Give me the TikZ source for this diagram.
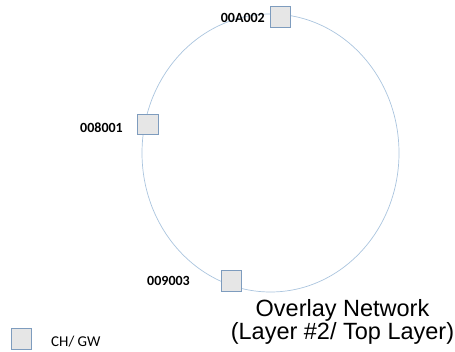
\documentclass[tikz,border=0pt]{standalone}
\usepackage{fontspec}
\setmainfont{Carlito}
\newfontfamily\titlefont{Liberation Sans}
\usetikzlibrary{positioning}
\definecolor{ringblue}{RGB}{170,196,222}
\definecolor{boxedge}{RGB}{126,156,190}
\definecolor{boxfill}{RGB}{230,230,230}

\begin{document}
\begin{tikzpicture}[x=1pt,y=-1pt]
        %
        % `chgw' is used for the cluster head / gateway squares.
        % `nodeid' is used for the labels beside them.
        \tikzstyle{chgw} = [draw=boxedge,fill=boxfill,line width=0.8pt,minimum size=20.5pt,inner sep=0pt]
        \tikzstyle{nodeid} = [font=\fontsize{14}{16}\selectfont\bfseries,inner sep=0pt]
        \useasboundingbox (0,0) rectangle (455,352);
        %
        % Ring
        \draw[ringblue,line width=0.7pt] (270.5,153) ellipse [x radius=128.5,y radius=139];
        %
        % Gateways
        \node[chgw] (gw1) at (280.5,17) {};
        \node[chgw] (gw2) at (148,124.5) {};
        \node[chgw] (gw3) at (231.5,281) {};
        %
        % Labels
        \node[nodeid,anchor=east] (id1) at (265,18) {00A002};
        \node[nodeid,anchor=east] (id2) at (123,128) {008001};
        \node[nodeid,anchor=east] (id3) at (190,281) {009003};
        %
        % Legend
        \node[chgw] (key) at (21.5,339) {};
        \node[anchor=west,inner sep=0pt,font=\fontsize{15}{17}\selectfont] (keytext) at (51,342) {CH/ GW};
        %
        % Title
        \node[font=\titlefont\fontsize{23.5}{23.5}\selectfont,inner sep=0pt,align=center] (title) at (342.5,322)
        {Overlay Network\\(Layer \#2/ Top Layer)};
        %
\end{tikzpicture}
\end{document}
